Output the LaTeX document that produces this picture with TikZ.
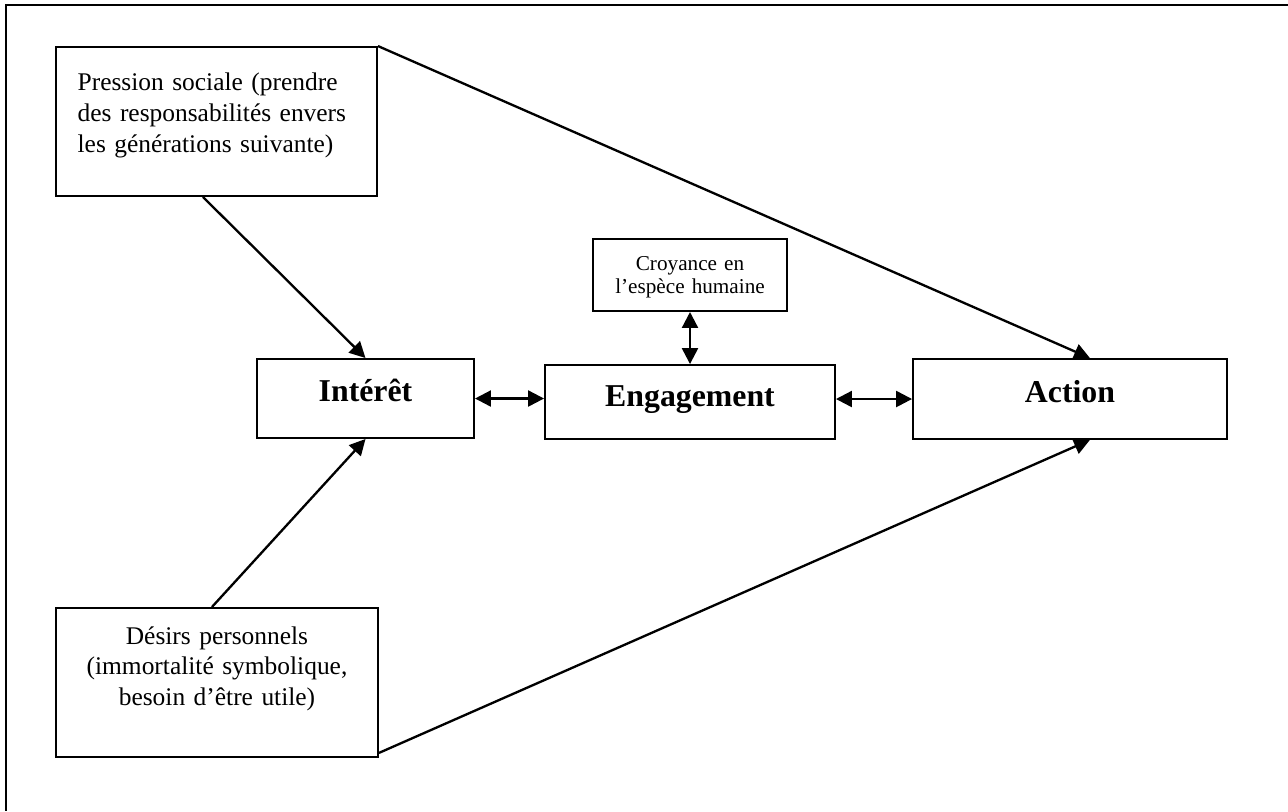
\documentclass[tikz,border=0pt]{standalone}
\usepackage{fontspec}
\setmainfont{Liberation Serif}
\usetikzlibrary{arrows.meta}

\begin{document}
\begin{tikzpicture}[x=0.4717pt, y=-0.4717pt, >={Triangle[length=7.5pt,width=7.5pt]},
  box/.style={draw, line width=0.9pt, inner sep=0pt},
  bigbox/.style={box, font=\fontsize{15}{18}\selectfont\bfseries, text height=10pt, text depth=7pt},
  link/.style={line width=1.1pt}]
 \useasboundingbox (0,0) rectangle (1288,811);
 \draw [line width=1.3pt] (1288,5) -- (6,5) -- (6,811);
 \begin {scope}
  \node [box, minimum width=151.4pt, minimum height=70.3pt, text width=131pt, align=left,
    font=\fontsize{12}{14.4}\selectfont, text height=9pt, text depth=37.8pt] (pression) at (216.5,121.5)
    {Pression sociale (prendre\\des responsabilités envers\\les générations suivante)};
  \node [box, minimum width=151.9pt, minimum height=70.3pt, text width=140pt, align=center,
    font=\fontsize{12}{14.6}\selectfont, text height=9pt, text depth=45.3pt] (desirs) at (217,682.5)
    {Désirs personnels\\(immortalité symbolique,\\besoin d’être utile)};
  \node [box, minimum width=91.5pt, minimum height=34pt, text width=85pt, align=center,
    font=\fontsize{10}{11.3}\selectfont, text height=7pt, text depth=11.7pt] (croyance) at (690,275)
    {Croyance en\\l’espèce humaine};
 \end {scope}
 \begin {scope}
  \node [bigbox, minimum width=102.4pt, minimum height=37.3pt] (interet) at (365.5,398.5) {Intérêt};
  \node [bigbox, minimum width=136.8pt, minimum height=34.9pt, text depth=6pt] (engagement) at (690,402) {Engagement};
  \node [bigbox, minimum width=148.1pt, minimum height=37.7pt] (action) at (1070,399) {Action};
 \end {scope}
 \draw [link, ->] ([xshift=-6.4pt]pression.south) -- (interet.north);
 \draw [link, ->] ([xshift=-2.4pt]desirs.north) -- (interet.south);
 \draw [link, ->] (pression.north east) -- ([xshift=9.4pt]action.north);
 \draw [link, ->] ([yshift=2.4pt]desirs.south east) -- ([xshift=9.4pt]action.south);
 \draw [link, <->] (interet.east) -- (interet.east -| engagement.west);
 \draw [link, <->] (engagement.east |- action.west) -- (action.west);
 \draw [link, <->] (croyance.south) -- (engagement.north);
\end{tikzpicture}
\end{document}
